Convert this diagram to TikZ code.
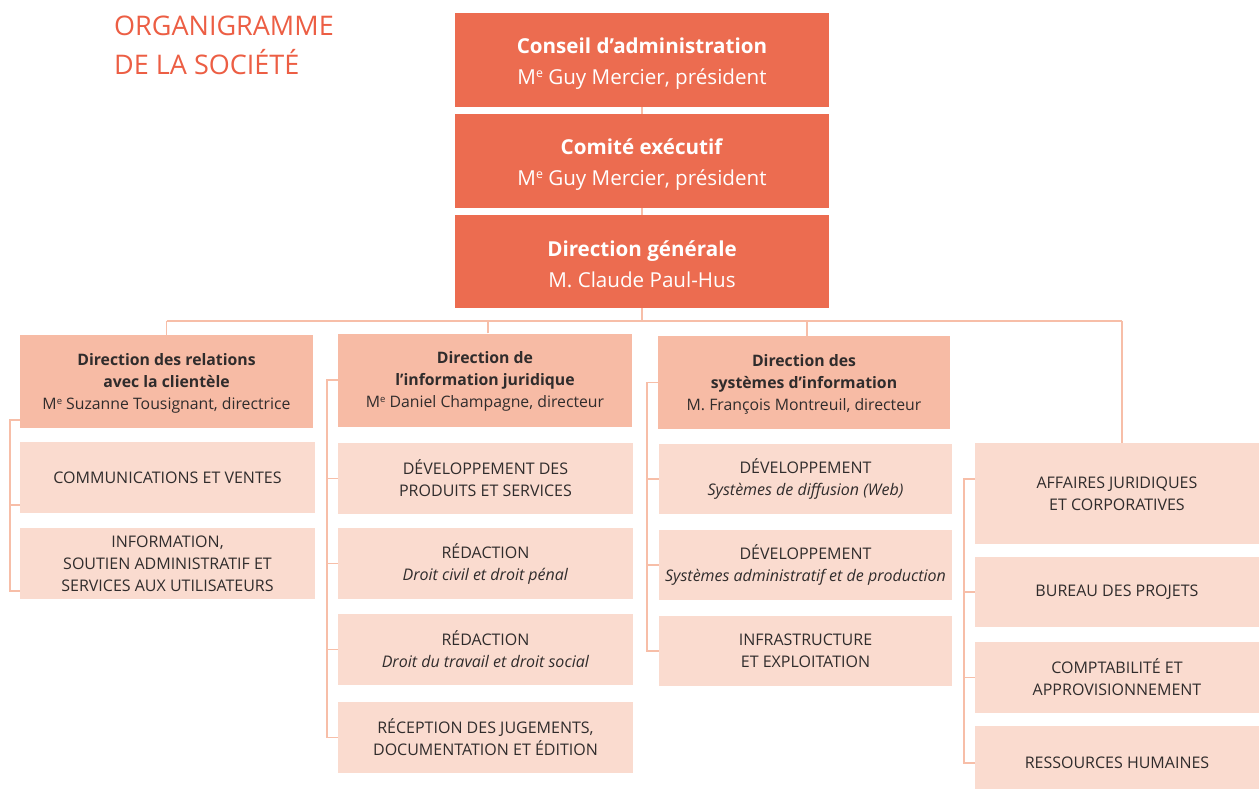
\documentclass[tikz,border=0pt]{standalone}
\usepackage{fontspec}
\setmainfont{Open Sans}
\definecolor{topc}{RGB}{236,108,80}
\definecolor{headc}{RGB}{247,187,165}
\definecolor{subc}{RGB}{250,219,207}
\definecolor{linec}{RGB}{247,190,168}
\definecolor{titlec}{RGB}{236,94,68}
\definecolor{txt}{RGB}{48,44,44}
\newcommand{\supe}[1]{\raisebox{0.55ex}{\scalebox{0.6}{#1}}}
\begin{document}
\begin{tikzpicture}[x=1pt,y=-1pt,
  box/.style={rectangle, inner sep=0pt, align=center, text=txt},
  topbox/.style={box, fill=topc, text=white, minimum width=374pt, font=\fontsize{20.6}{31}\selectfont},
  headbox/.style={box, fill=headc, minimum height=93pt, font=\fontsize{15.8}{22}\selectfont},
  subbox/.style={box, fill=subc, minimum height=71pt, font=\fontsize{16}{22}\selectfont},
  link/.style={draw=linec, line width=1.6pt}]
\useasboundingbox (0,0) rectangle (1259,788);

\node[anchor=north west, inner sep=0pt, align=left, text=titlec, font=\fontsize{27}{39}\selectfont] (title) at (114,16) {ORGANIGRAMME\\DE LA SOCIÉTÉ};

\node[topbox, minimum height=94pt] (ca) at (642,60) {\rule{0pt}{22pt}\textbf{Conseil d’administration}\\M\supe{e} Guy Mercier, président};
\node[topbox, minimum height=94pt] (ce) at (642,161) {\rule{0pt}{22pt}\textbf{Comité exécutif}\\M\supe{e} Guy Mercier, président};
\node[topbox, minimum height=93pt] (dg) at (642,261.5) {\rule{0pt}{22pt}\textbf{Direction générale}\\M. Claude Paul-Hus};

\node[headbox, minimum width=293pt] (h1) at (166.5,381.5) {\rule{0pt}{15pt}\textbf{Direction des relations}\\\textbf{avec la clientèle}\\M\supe{e} Suzanne Tousignant, directrice};
\node[headbox, minimum width=294pt] (h2) at (485,380) {\rule{0pt}{15pt}\textbf{Direction de}\\\textbf{l’information juridique}\\M\supe{e} Daniel Champagne, directeur};
\node[headbox, minimum width=292pt] (h3) at (804,382.5) {\rule{0pt}{15pt}\textbf{Direction des}\\\textbf{systèmes d’information}\\M. François Montreuil, directeur};

\node[subbox, minimum width=295pt] (c1a) at (167.5,477.5) {COMMUNICATIONS ET VENTES};
\node[subbox, minimum width=295pt] (c1b) at (167.5,563.5) {INFORMATION,\\SOUTIEN ADMINISTRATIF ET\\SERVICES AUX UTILISATEURS};

\node[subbox, minimum width=295pt] (c2a) at (485.5,478.5) {DÉVELOPPEMENT DES\\PRODUITS ET SERVICES};
\node[subbox, minimum width=295pt] (c2b) at (485.5,563.5) {RÉDACTION\\\textit{Droit civil et droit pénal}};
\node[subbox, minimum width=295pt] (c2c) at (485.5,649.5) {RÉDACTION\\\textit{Droit du travail et droit social}};
\node[subbox, minimum width=295pt] (c2d) at (485.5,737.5) {RÉCEPTION DES JUGEMENTS,\\DOCUMENTATION ET ÉDITION};

\node[subbox, minimum width=293pt, minimum height=70pt] (c3a) at (805.5,479) {DÉVELOPPEMENT\\\textit{Systèmes de diffusion (Web)}};
\node[subbox, minimum width=293pt, minimum height=70pt] (c3b) at (805.5,565) {DÉVELOPPEMENT\\\textit{Systèmes administratif et de production}};
\node[subbox, minimum width=293pt, minimum height=70pt] (c3c) at (805.5,651) {INFRASTRUCTURE\\ET EXPLOITATION};

\node[subbox, minimum width=284pt, minimum height=101pt] (r1) at (1117,493.5) {AFFAIRES JURIDIQUES\\ET CORPORATIVES};
\node[subbox, minimum width=284pt, minimum height=70pt] (r2) at (1117,592) {BUREAU DES PROJETS};
\node[subbox, minimum width=284pt, minimum height=71pt] (r3) at (1117,677.5) {COMPTABILITÉ ET\\APPROVISIONNEMENT};
\node[subbox, minimum width=284pt, minimum height=74pt] (r4) at (1117,763) {RESSOURCES HUMAINES};

% connectors
\coordinate (bus) at (642,321);
\draw[link] (ca.south) -- (ce.north);
\draw[link] (ce.south) -- (dg.north);
\draw[link] (dg.south) -- (dg.south |- bus);
\draw[link] (h1.north |- bus) -- ([xshift=5pt]r1.north |- bus);
\draw[link] (h1.north) -- (h1.north |- bus);
\draw[link] ([xshift=3pt]h2.north) -- ([xshift=3pt]h2.north |- bus);
\draw[link] ([xshift=3pt]h3.north) -- ([xshift=3pt]h3.north |- bus);
\draw[link] ([xshift=5pt]r1.north) -- ([xshift=5pt]r1.north |- bus);

\draw[link] ([yshift=8pt]h1.south west) -- ++(-10,0) |- ([yshift=8pt]c1b.south west);
\draw[link] ([yshift=8pt]c1a.south west) -- ++(-10,0);

\draw[link] (h2.west) -- ++(-11,0) |- (c2d.west);
\foreach \n in {c2a,c2b,c2c} \draw[link] (\n.west) -- ++(-11,0);

\draw[link] (h3.west) -- ++(-11,0) |- (c3c.west);
\foreach \n in {c3a,c3b} \draw[link] (\n.west) -- ++(-11,0);

\draw[link] ([yshift=14.5pt]r1.west) -- ++(-11,0) |- (r4.west);
\foreach \n in {r2,r3} \draw[link] (\n.west) -- ++(-11,0);
\end{tikzpicture}
\end{document}
